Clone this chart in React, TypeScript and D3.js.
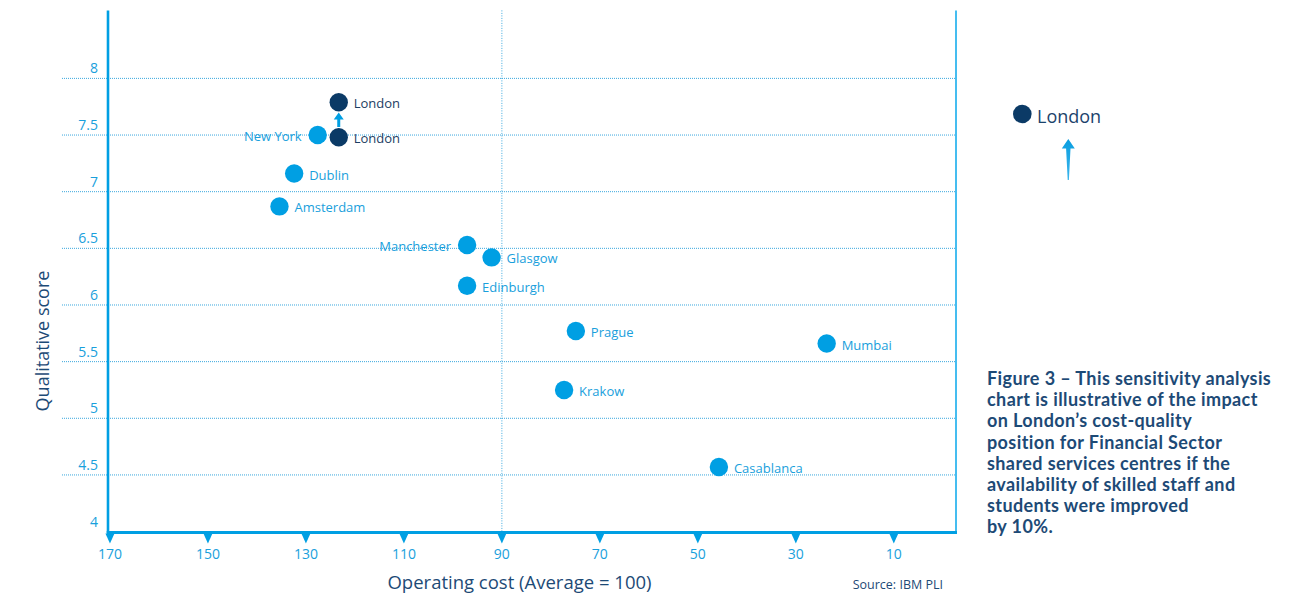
import React from "react";
import * as d3 from "d3";

// Comparison cities: operating cost index (average = 100) and qualitative score
const cities = ["New York", "Dublin", "Amsterdam", "Manchester", "Glasgow", "Edinburgh", "Prague", "Krakow", "Mumbai", "Casablanca"];
const cityCost = [127.6, 132.4, 135.4, 97.1, 92.1, 97.1, 74.9, 77.3, 23.7, 45.7];
const cityScore = [7.5, 7.16, 6.87, 6.53, 6.42, 6.17, 5.77, 5.25, 5.66, 4.57];
// Cities whose label sits to the left of the dot
const leftLabelled = ["New York", "Manchester"];

// London before and after the 10% improvement in skilled staff / students
const londonCost = 123.3;
const londonScoreBefore = 7.48;
const londonScoreAfter = 7.79;

const xTicks = [170, 150, 130, 110, 90, 70, 50, 30, 10];
const yTicks = [4, 4.5, 5, 5.5, 6, 6.5, 7, 7.5, 8];
const referenceCost = 90;

const captionLines = [
  "Figure 3 – This sensitivity analysis",
  "chart is illustrative of the impact",
  "on London’s cost-quality",
  "position for Financial Sector",
  "shared services centres if the",
  "availability of skilled staff and",
  "students were improved",
  "by 10%.",
];

const LIGHT = "#009fe3";
const LIGHT_TEXT = "#19a0dc";
const NAVY = "#0b3a66";
const TITLE = "#1d4a76";
const FONT = "'Open Sans', 'Noto Sans', sans-serif";

export default function App() {
  const left = 108;
  const right = 957;
  const top = 10.4;
  const bottom = 531.6;

  const x = d3.scaleLinear().domain([170.4, -2.9]).range([left, right]);
  const y = d3.scaleLinear().domain([4, 8.6]).range([bottom, top]);

  const r = 9.2;

  // small arrow between the two London positions
  const ax = x(londonCost);
  const tipY = y(londonScoreAfter) + r + 1;
  const baseY = y(londonScoreBefore) - r - 1;
  const headH = 7;
  const arrowPath = [
    `M${ax},${tipY}`,
    `L${ax + 5},${tipY + headH}`,
    `L${ax + 1.5},${tipY + headH}`,
    `L${ax + 1.5},${baseY}`,
    `L${ax - 1.5},${baseY}`,
    `L${ax - 1.5},${tipY + headH}`,
    `L${ax - 5},${tipY + headH}`,
    "Z",
  ].join(" ");

  // legend arrow (tapering shaft)
  const lx = 1068.3;
  const legendArrow = `M${lx},139 L${lx + 6.5},148.5 L${lx + 2.2},148.5 L${lx + 0.6},180 L${lx - 0.6},180 L${lx - 2.2},148.5 L${lx - 6.5},148.5 Z`;

  return (
    <div style={{ position: "absolute", left: 0, top: 0 }}>
      <svg width={1300} height={596} style={{ display: "block", background: "#fff" }}>
        <defs>
          <linearGradient id="arrowFade" x1="0" y1="0" x2="0" y2="1">
            <stop offset="0" stopColor="#0a9ee0" />
            <stop offset="1" stopColor="#3cb5ec" />
          </linearGradient>
        </defs>

        {/* horizontal dotted gridlines */}
        {yTicks
          .filter((t) => t > 4)
          .map((t) => (
            <line
              key={`g${t}`}
              x1={62}
              x2={right}
              y1={y(t)}
              y2={y(t)}
              stroke="#3aa8de"
              strokeWidth={1}
              strokeDasharray="1,1"
            />
          ))}

        {/* vertical reference line */}
        <line
          x1={x(referenceCost)}
          x2={x(referenceCost)}
          y1={top}
          y2={bottom}
          stroke="#3aa8de"
          strokeWidth={1}
          strokeDasharray="1,1.5"
        />

        {/* right frame */}
        <line x1={right - 1} x2={right - 1} y1={top} y2={bottom} stroke="#45bdf0" strokeWidth={2} />

        {/* axes */}
        <line x1={left} x2={left} y1={top} y2={bottom + 1.5} stroke={LIGHT} strokeWidth={2.6} />
        <line x1={left - 1.3} x2={right} y1={bottom + 1} y2={bottom + 1} stroke={LIGHT} strokeWidth={3} />

        {/* x ticks as small triangles */}
        {xTicks.map((t) => (
          <g key={`x${t}`}>
            <path
              d={`M${x(t) - 4.5},${bottom + 2} L${x(t) + 4.5},${bottom + 2} L${x(t)},${bottom + 12} Z`}
              fill={LIGHT}
            />
            <text
              x={x(t)}
              y={559}
              textAnchor="middle"
              fontFamily={FONT}
              fontSize={14}
              fill={LIGHT_TEXT}
            >
              {t}
            </text>
          </g>
        ))}

        {/* y tick labels */}
        {yTicks.map((t) => (
          <text
            key={`y${t}`}
            x={98}
            y={y(t) - 5}
            textAnchor="end"
            fontFamily={FONT}
            fontSize={14}
            fill={LIGHT_TEXT}
          >
            {t}
          </text>
        ))}

        {/* axis titles */}
        <text
          transform={`translate(49,341) rotate(-90)`}
          textAnchor="middle"
          fontFamily={FONT}
          fontSize={18}
          fill={TITLE}
        >
          Qualitative score
        </text>
        <text x={519.5} y={589} textAnchor="middle" fontFamily={FONT} fontSize={18.5} fill={TITLE}>
          Operating cost (Average = 100)
        </text>
        <text x={943} y={589} textAnchor="end" fontFamily={FONT} fontSize={12.5} fill={TITLE}>
          Source: IBM PLI
        </text>

        {/* comparison cities */}
        {cities.map((c, i) => {
          const cx = x(cityCost[i]);
          const cy = y(cityScore[i]);
          const onLeft = leftLabelled.includes(c);
          return (
            <g key={c}>
              <circle cx={cx} cy={cy} r={r} fill={LIGHT} />
              <text
                x={onLeft ? cx - 16 : cx + 15}
                y={cy + 6}
                textAnchor={onLeft ? "end" : "start"}
                fontFamily={FONT}
                fontSize={13}
                fill={LIGHT_TEXT}
              >
                {c}
              </text>
            </g>
          );
        })}

        {/* London: current and improved positions */}
        <path d={arrowPath} fill={LIGHT} />
        {[londonScoreBefore, londonScoreAfter].map((s) => (
          <g key={`lon${s}`}>
            <circle cx={x(londonCost)} cy={y(s)} r={r} fill={NAVY} />
            <text
              x={x(londonCost) + 15}
              y={y(s) + 6}
              fontFamily={FONT}
              fontSize={13}
              fill="#1c3d63"
            >
              London
            </text>
          </g>
        ))}

        {/* legend */}
        <circle cx={1022.3} cy={114} r={9.3} fill={NAVY} />
        <text x={1037} y={122.5} fontFamily={FONT} fontSize={18} fill="#1b436c">
          London
        </text>
        <path d={legendArrow} fill="url(#arrowFade)" />

        {/* caption */}
        {captionLines.map((line, i) => (
          <text
            key={i}
            x={987}
            y={385 + i * 21.2}
            fontFamily="Lato, 'Open Sans', sans-serif"
            fontWeight={700}
            fontSize={18}
            letterSpacing={0.4}
            fill={TITLE}
          >
            {line}
          </text>
        ))}
      </svg>
    </div>
  );
}
